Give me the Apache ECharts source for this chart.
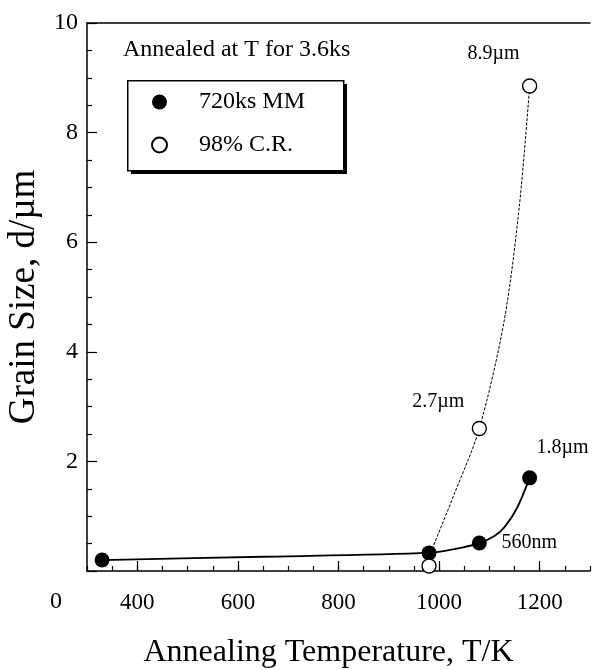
<!DOCTYPE html>
<html>
<head>
<meta charset="utf-8">
<script src="https://cdn.jsdelivr.net/npm/echarts@6/dist/echarts.min.js"></script>
<style>
html,body{margin:0;padding:0;background:#fff;}
#chart{width:592px;height:670px;}
</style>
</head>
<body>
<div id="chart"></div>
<script>
// ---- data ----
const mmTemp = [330, 980, 1080, 1180];
const mmSize = [0.2, 0.33, 0.51, 1.7];
const mmLabels = ['', '', '560nm', '1.8µm'];
const crTemp = [980, 1080, 1180];
const crSize = [0.09, 2.6, 8.85];
const crLabels = ['', '2.7µm', '8.9µm'];
// guide curves as drawn in the figure
const mmCurveTemp = [330, 650, 980, 1030, 1080, 1110, 1130, 1155, 1180];
const mmCurveSize = [0.2, 0.26, 0.33, 0.4, 0.51, 0.64, 0.8, 1.15, 1.7];
const crCurveTemp = [986, 1030, 1080, 1130, 1160, 1180];
const crCurveSize = [0.4, 1.4, 2.6, 4.6, 6.7, 8.85];
const xTickLabels = [400, 600, 800, 1000, 1200];
const yTickLabels = [2, 4, 6, 8, 10];
const seriesNames = ['720ks MM', '98% C.R.'];
const noteText = 'Annealed at T for 3.6ks';
const xTitle = 'Annealing Temperature, T/K';
const yTitle = 'Grain Size, d/µm';

// ---- styling ----
const FONT = "'Liberation Serif','Times New Roman',serif";
const labelOffsets = {
  '560nm': [50, 0],
  '1.8µm': [33, -30],
  '2.7µm': [-41, -27],
  '8.9µm': [-36, -32]
};
function pts(xs, ys, labels) {
  return xs.map((x, i) => {
    const item = { value: [x, ys[i]] };
    if (labels && labels[i]) {
      item.label = {
        show: true,
        formatter: labels[i],
        position: 'inside',
        offset: labelOffsets[labels[i]],
        color: '#000',
        fontFamily: FONT,
        fontSize: 20
      };
    }
    return item;
  });
}

const chart = echarts.init(document.getElementById('chart'), null, { renderer: 'canvas' });
const axisLineStyle = { color: '#000', width: 1.5 };
chart.setOption({
  backgroundColor: '#fff',
  animation: false,
  textStyle: { fontFamily: FONT, color: '#000' },
  title: {
    text: noteText,
    left: 123, top: 38, padding: 0,
    textStyle: { fontFamily: FONT, fontSize: 24, fontWeight: 'normal', color: '#000' }
  },
  legend: {
    data: seriesNames,
    orient: 'vertical',
    left: 151, top: 90,
    itemWidth: 15, itemHeight: 15, itemGap: 19,
    padding: 0,
    textStyle: { fontFamily: FONT, fontSize: 24, color: '#000', padding: [0, 0, 0, 27] }
  },
  graphic: [{
    type: 'rect', left: 131, top: 84, z: 1,
    shape: { width: 216, height: 90 },
    style: { fill: '#000' }
  }, {
    type: 'rect', left: 127, top: 80, z: 1,
    shape: { width: 216, height: 90 },
    style: { fill: '#fff', stroke: '#000', lineWidth: 1.5 }
  }, {
    type: 'text', left: 50, top: 590,
    style: { text: '0', font: '24px ' + FONT, fill: '#000' }
  }],
  grid: { left: 87, right: 2, top: 23, bottom: 99, containLabel: false, outerBoundsMode: 'none' },
  xAxis: [{
    type: 'value', min: 300, max: 1300, interval: 50, position: 'bottom',
    name: xTitle, nameLocation: 'middle', nameGap: 66,
    nameTextStyle: { fontFamily: FONT, fontSize: 32, color: '#000', padding: [0, 20, 0, 0] },
    axisLine: { show: true, onZero: false, lineStyle: axisLineStyle },
    axisTick: { show: true, inside: true, length: 5, lineStyle: { color: '#000', width: 1.2 } },
    axisLabel: {
      show: true, margin: 20, color: '#000', fontFamily: FONT, fontSize: 23,
      formatter: v => (xTickLabels.indexOf(v) >= 0 ? String(v) : '')
    },
    splitLine: { show: false }
  }, {
    type: 'value', min: 300, max: 1300, position: 'bottom',
    axisLine: { show: false },
    axisTick: { show: true, inside: true, length: 10, customValues: xTickLabels, lineStyle: { color: '#000', width: 1.2 } },
    axisLabel: { show: false },
    splitLine: { show: false }
  }, {
    type: 'value', min: 300, max: 1300, position: 'top',
    axisLine: { show: true, lineStyle: axisLineStyle },
    axisTick: { show: false }, axisLabel: { show: false }, splitLine: { show: false }
  }],
  yAxis: [{
    type: 'value', min: 0, max: 10, interval: 2, position: 'left',
    name: yTitle, nameLocation: 'middle', nameGap: 44,
    nameTextStyle: { fontFamily: FONT, fontSize: 37, color: '#000' },
    axisLine: { show: true, onZero: false, lineStyle: axisLineStyle },
    axisTick: { show: true, inside: true, length: 10, lineStyle: { color: '#000', width: 1.2 } },
    minorTick: { show: true, splitNumber: 4, length: 5, lineStyle: { color: '#000', width: 1.2 } },
    axisLabel: {
      show: true, margin: 9, color: '#000', fontFamily: FONT, fontSize: 24,
      formatter: v => (yTickLabels.indexOf(v) >= 0 ? String(v) : '')
    },
    splitLine: { show: false }, minorSplitLine: { show: false }
  }],
  series: [{
    name: 'mmFit', type: 'line', xAxisIndex: 0,
    data: pts(mmCurveTemp, mmCurveSize),
    smooth: 0.3, showSymbol: false, symbol: 'none',
    lineStyle: { color: '#000', width: 1.8 }, silent: true, z: 2
  }, {
    name: 'crFit', type: 'line', xAxisIndex: 0,
    data: pts(crCurveTemp, crCurveSize),
    smooth: 0.3, showSymbol: false, symbol: 'none',
    lineStyle: { color: '#000', width: 1, type: [3, 1.5] }, silent: true, z: 2
  }, {
    name: seriesNames[0], type: 'scatter', xAxisIndex: 0,
    data: pts(mmTemp, mmSize, mmLabels),
    symbol: 'circle', symbolSize: 15,
    itemStyle: { color: '#000', borderColor: '#000', borderWidth: 0, opacity: 1 }, z: 4
  }, {
    name: seriesNames[1], type: 'scatter', xAxisIndex: 0,
    data: pts(crTemp, crSize, crLabels),
    symbol: 'circle', symbolSize: 14,
    itemStyle: { color: '#fff', borderColor: '#000', borderWidth: 1.4, opacity: 1 }, z: 5
  }]
});
</script>
</body>
</html>
